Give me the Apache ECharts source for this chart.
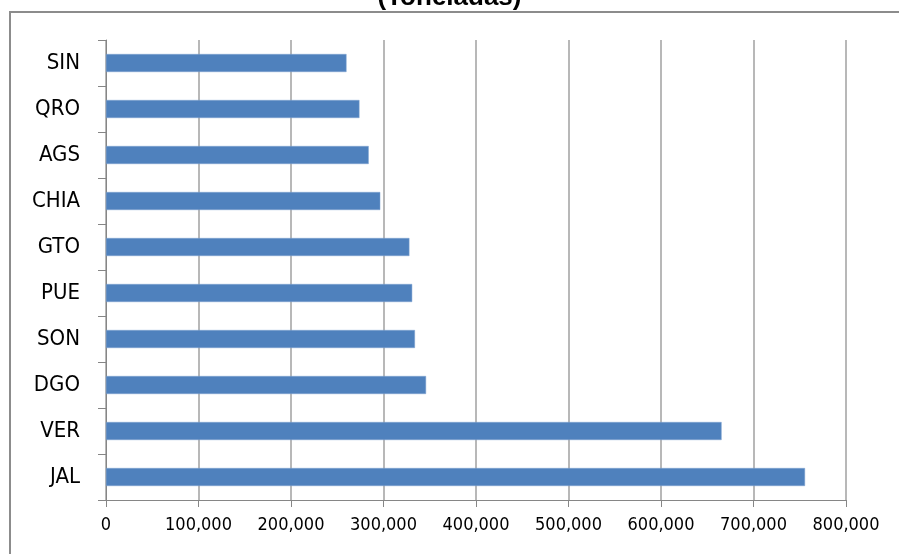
<!DOCTYPE html>
<html>
<head>
<meta charset="utf-8">
<script src="https://cdn.jsdelivr.net/npm/echarts@6/dist/echarts.min.js"></script>
<style>
  html, body { margin: 0; padding: 0; background: #fff; }
  #main { width: 899px; height: 554px; }
</style>
</head>
<body>
<div id="main"></div>
<script>
var estados = ['SIN', 'QRO', 'AGS', 'CHIA', 'GTO', 'PUE', 'SON', 'DGO', 'VER', 'JAL'];
var toneladas = [260000, 274000, 284000, 296500, 328000, 331000, 334000, 346000, 665500, 755700];
var tituloTexto = '(Toneladas)';

var labelFont = '"Liberation Sans Narrow", "DejaVu Sans Condensed", sans-serif';

var myChart = echarts.init(document.getElementById('main'));
var option = {
    animation: false,
    backgroundColor: '#fff',
    title: {
        text: tituloTexto,
        left: 'center',
        top: -20,
        textStyle: { fontFamily: 'Liberation Sans', fontWeight: 'bold', fontSize: 26, color: '#000' }
    },
    graphic: [{
        type: 'rect',
        shape: { x: 10, y: 12, width: 900, height: 560 },
        style: { fill: null, stroke: '#8c8c8c', lineWidth: 2 },
        silent: true
    }],
    grid: { left: 106, right: 53, top: 40, bottom: 54 },
    xAxis: {
        type: 'value',
        min: 0,
        max: 800000,
        interval: 100000,
        axisLine: { show: true, lineStyle: { color: '#868686', width: 1 } },
        axisTick: { show: true, length: 7, lineStyle: { color: '#868686' } },
        splitLine: { show: true, lineStyle: { color: '#a0a0a0', width: 1.5 } },
        axisLabel: {
            margin: 16,
            fontFamily: labelFont,
            fontSize: 18,
            color: '#000',
            formatter: function (v) { return v.toLocaleString('en-US'); }
        }
    },
    yAxis: {
        type: 'category',
        inverse: true,
        data: estados,
        axisLine: { show: true, lineStyle: { color: '#868686', width: 1 } },
        axisTick: { show: true, length: 8, lineStyle: { color: '#868686' } },
        axisLabel: { margin: 26, fontFamily: labelFont, fontSize: 22, color: '#000' }
    },
    series: [{
        type: 'bar',
        data: toneladas,
        barWidth: 18,
        itemStyle: { color: '#4f81bd', borderColor: '#7ea3d1', borderWidth: 0.5 }
    }]
};
myChart.setOption(option);
</script>
</body>
</html>
